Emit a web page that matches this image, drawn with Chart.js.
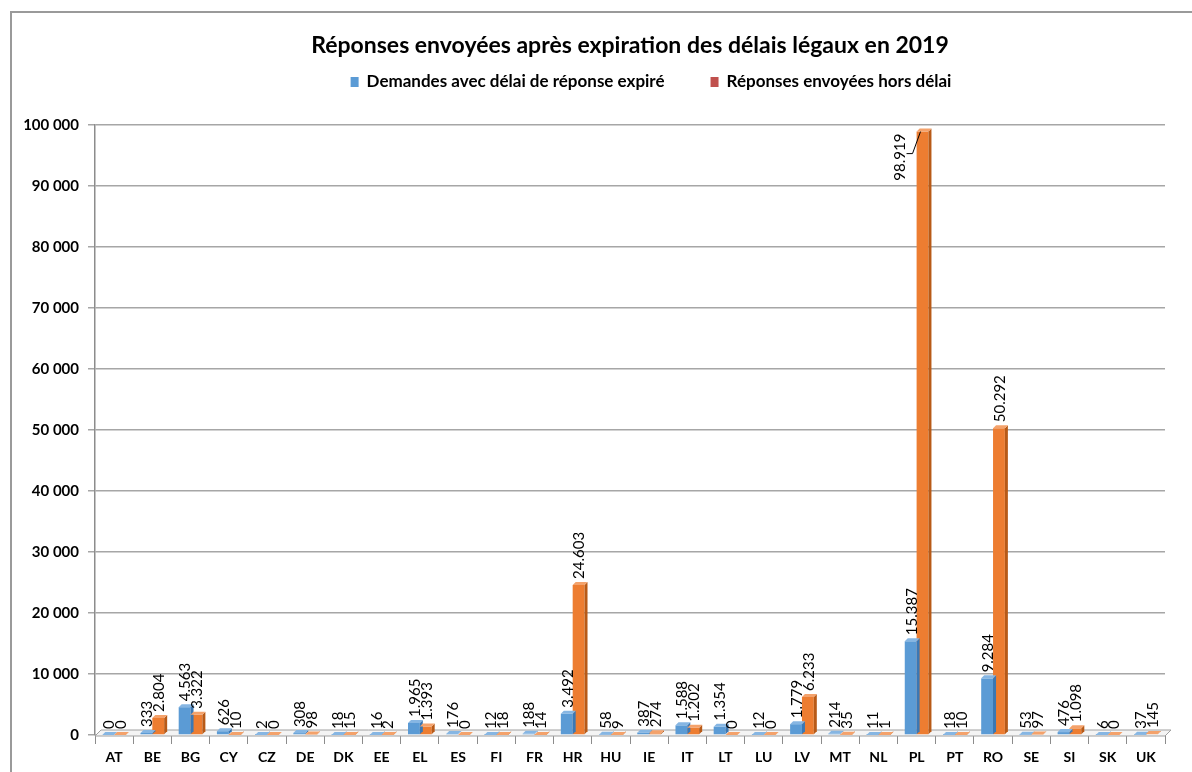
<!DOCTYPE html>
<html>
<head>
<meta charset="utf-8">
<script src="https://cdn.jsdelivr.net/npm/chart.js@4/dist/chart.umd.min.js"></script>
<style>
  html, body { margin: 0; padding: 0; background: #fff; }
  #frame { position: absolute; left: 10px; top: 11px; width: 1300px; height: 900px; border-left: 2px solid #9a9a9a; border-top: 2px solid #9a9a9a; }
  #wrap { position: absolute; left: 0; top: 0; width: 1192px; height: 772px; }
</style>
</head>
<body>
<div id="frame"></div>
<div id="wrap"><canvas id="myChart" width="1192" height="772"></canvas></div>
<script>
// country codes
const categories = ['AT', 'BE', 'BG', 'CY', 'CZ', 'DE', 'DK', 'EE', 'EL', 'ES', 'FI', 'FR', 'HR', 'HU',
    'IE', 'IT', 'LT', 'LU', 'LV', 'MT', 'NL', 'PL', 'PT', 'RO', 'SE', 'SI', 'SK', 'UK'];
// Demandes avec délai de réponse expiré
const demandes = [0, 333, 4563, 626, 2, 308, 18, 16, 1965, 176, 12, 188, 3492, 58,
    387, 1588, 1354, 12, 1779, 214, 11, 15387, 18, 9284, 53, 476, 6, 37];
// Réponses envoyées hors délai
const reponses = [0, 2804, 3322, 10, 0, 98, 15, 2, 1393, 0, 18, 14, 24603, 9,
    274, 1202, 0, 0, 6233, 35, 1, 98919, 10, 50292, 97, 1098, 0, 145];
const yMax = 100000;
const yStep = 10000;

const TITLE = 'Réponses envoyées après expiration des délais légaux en 2019';
const FONT = 'Lato, "Liberation Sans", sans-serif';
const blue = '#5b9bd5', blueSide = '#3a78b5', blueTop = '#86b6e3';
const orange = '#ed7d31', orangeSide = '#b85a17', orangeTop = '#f4a26b';
const legendRed = '#c0504d';

const fmtDot = n => String(n).replace(/\B(?=(\d{3})+(?!\d))/g, '.');
const fmtSpace = n => String(n).replace(/\B(?=(\d{3})+(?!\d))/g, ' ');

// floor plate + bar sides to fake the 3D look
const depth = 3;
const bars3d = {
    id: 'bars3d',
    beforeDatasetsDraw(chart) {
        const ctx = chart.ctx, a = chart.chartArea;
        ctx.save();
        ctx.beginPath();
        ctx.moveTo(a.left, a.bottom + 1);
        ctx.lineTo(a.right, a.bottom + 1);
        ctx.lineTo(a.right + 6, a.bottom - 5);
        ctx.lineTo(a.left + 6, a.bottom - 5);
        ctx.closePath();
        ctx.fillStyle = '#f4f4f4';
        ctx.fill();
        ctx.strokeStyle = '#a0a0a0';
        ctx.lineWidth = 1;
        ctx.stroke();
        ctx.restore();
    },
    afterDatasetsDraw(chart) {
        const ctx = chart.ctx;
        const cols = [[blueSide, blueTop], [orangeSide, orangeTop]];
        ctx.save();
        chart.data.datasets.forEach((ds, i) => {
            chart.getDatasetMeta(i).data.forEach(bar => {
                const half = bar.width / 2, x = bar.x, y = bar.y, b = bar.base;
                ctx.fillStyle = cols[i][0];
                ctx.beginPath();
                ctx.moveTo(x + half, y);
                ctx.lineTo(x + half + depth, y - depth);
                ctx.lineTo(x + half + depth, b - depth);
                ctx.lineTo(x + half, b);
                ctx.closePath();
                ctx.fill();
                ctx.fillStyle = cols[i][1];
                ctx.beginPath();
                ctx.moveTo(x - half, y);
                ctx.lineTo(x - half + depth, y - depth);
                ctx.lineTo(x + half + depth, y - depth);
                ctx.lineTo(x + half, y);
                ctx.closePath();
                ctx.fill();
            });
        });
        ctx.restore();
    }
};

// vertical value labels above each bar
const valueLabels = {
    id: 'valueLabels',
    afterDatasetsDraw(chart) {
        const ctx = chart.ctx, a = chart.chartArea;
        ctx.save();
        ctx.font = '15px ' + FONT;
        ctx.fillStyle = '#000';
        ctx.textBaseline = 'middle';
        chart.data.datasets.forEach((ds, i) => {
            chart.getDatasetMeta(i).data.forEach((bar, j) => {
                const txt = fmtDot(ds.data[j]);
                const w = ctx.measureText(txt).width;
                ctx.save();
                if (bar.y - 6 - w < a.top - 10) {
                    // too tall: put it left of the bar with a leader line
                    const lx = bar.x - 22, ly = bar.y + 2;
                    ctx.translate(lx, ly);
                    ctx.rotate(-Math.PI / 2);
                    ctx.textAlign = 'right';
                    ctx.fillText(txt, 0, 0);
                    ctx.restore();
                    ctx.save();
                    ctx.strokeStyle = '#000';
                    ctx.lineWidth = 1;
                    ctx.beginPath();
                    ctx.moveTo(lx + 6, bar.y + 22);
                    ctx.lineTo(lx + 12, bar.y + 22);
                    ctx.lineTo(bar.x - 2, bar.y);
                    ctx.stroke();
                } else {
                    ctx.translate(bar.x + 1, bar.y - 6);
                    ctx.rotate(-Math.PI / 2);
                    ctx.textAlign = 'left';
                    ctx.fillText(txt, 0, 0);
                }
                ctx.restore();
            });
        });
        ctx.restore();
    }
};

// title and legend drawn above the plot
const header = {
    id: 'header',
    afterDraw(chart) {
        const ctx = chart.ctx;
        ctx.save();
        ctx.fillStyle = '#000';
        ctx.font = 'bold 23px ' + FONT;
        ctx.textAlign = 'center';
        ctx.textBaseline = 'middle';
        ctx.fillText(TITLE, 630, 46);

        const items = [
            { text: chart.data.datasets[0].label, color: blue },
            { text: chart.data.datasets[1].label, color: legendRed }
        ];
        ctx.font = 'bold 17px ' + FONT;
        ctx.textAlign = 'left';
        const gap = 46, box = 8, pad = 8;
        const widths = items.map(it => box + pad + ctx.measureText(it.text).width);
        const total = widths[0] + gap + widths[1];
        let x = 651 - total / 2;
        const y = 82;
        items.forEach((it, k) => {
            ctx.fillStyle = it.color;
            ctx.fillRect(x, y - 5, box, 10);
            ctx.fillStyle = '#000';
            ctx.fillText(it.text, x + box + pad, y);
            x += widths[k] + gap;
        });
        ctx.restore();
    }
};

new Chart(document.getElementById('myChart'), {
    type: 'bar',
    data: {
        labels: categories,
        datasets: [
            {
                label: 'Demandes avec délai de réponse expiré',
                data: demandes,
                backgroundColor: blue,
                categoryPercentage: 0.62,
                barPercentage: 1.0
            },
            {
                label: 'Réponses envoyées hors délai',
                data: reponses,
                backgroundColor: orange,
                categoryPercentage: 0.62,
                barPercentage: 1.0
            }
        ]
    },
    options: {
        responsive: false,
        animation: false,
        layout: {
            padding: { left: 10, right: 27, top: 125, bottom: 0 }
        },
        plugins: {
            legend: { display: false },
            tooltip: { enabled: false },
            title: { display: false }
        },
        scales: {
            x: {
                grid: { drawOnChartArea: false, offset: true, tickLength: 9, color: '#8c8c8c' },
                border: { display: false },
                ticks: {
                    color: '#000',
                    padding: 5,
                    font: { family: FONT, size: 14, weight: 'bold' }
                },
                afterFit(scale) { scale.height = 37; }
            },
            y: {
                min: 0,
                max: yMax,
                grid: { color: '#a6a6a6', lineWidth: 1.5, tickLength: 7 },
                border: { display: true, color: '#8c8c8c', width: 1.5 },
                ticks: {
                    stepSize: yStep,
                    color: '#000',
                    padding: 9,
                    font: { family: FONT, size: 15, weight: 'bold' },
                    callback: v => fmtSpace(v)
                },
                afterFit(scale) { scale.width = 85; }
            }
        }
    },
    plugins: [bars3d, valueLabels, header]
});
</script>
</body>
</html>
